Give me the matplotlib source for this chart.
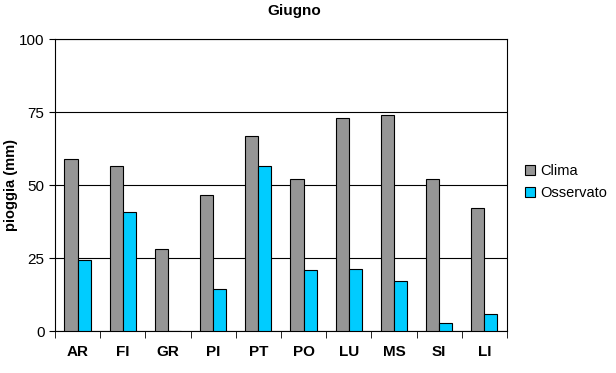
import numpy as np
import matplotlib
matplotlib.use('Agg')
import matplotlib.pyplot as plt

plt.rcParams['font.family'] = ['Liberation Sans', 'DejaVu Sans']

stazioni = ['AR', 'FI', 'GR', 'PI', 'PT', 'PO', 'LU', 'MS', 'SI', 'LI']
clima = [58.9, 56.5, 28.0, 46.5, 66.7, 52.0, 72.9, 73.9, 52.0, 42.1]
osservato = [24.2, 40.7, 0.0, 14.3, 56.5, 20.8, 21.1, 17.0, 2.6, 5.7]

fig = plt.figure(figsize=(6.16, 3.73), dpi=100)
ax = fig.add_axes([0.0893, 0.1126, 0.7337, 0.7828])

x = np.arange(len(stazioni))
w = 0.29
ax.bar(x - w / 2, clima, w, color='#969696', edgecolor='black', linewidth=0.8,
       label='Clima', zorder=3)
ax.bar(x + w / 2, osservato, w, color='#00ccff', edgecolor='black', linewidth=0.8,
       label='Osservato', zorder=3)

ax.set_xlim(-0.5, len(stazioni) - 0.5)
ax.set_ylim(0, 100)
ax.set_yticks([0, 25, 50, 75, 100])
ax.yaxis.grid(True, color='black', linewidth=0.8, zorder=0)

# etichette centrate, tacche tra le categorie
ax.set_xticks(x)
ax.set_xticklabels(stazioni, fontweight='bold', fontsize=11)
ax.tick_params(axis='x', length=0, pad=10)
ax.set_xticks(np.arange(len(stazioni) + 1) - 0.5, minor=True)
ax.tick_params(axis='x', which='minor', length=5, direction='out')
ax.tick_params(axis='y', length=4, direction='out', labelsize=11)

for s in ax.spines.values():
    s.set_linewidth(0.8)

ax.set_ylabel('pioggia (mm)', fontweight='bold', fontsize=10.5)
ax.yaxis.set_label_coords(-0.082, 0.5)
fig.text(294 / 616, 1 - 11 / 373, 'Giugno', fontweight='bold', fontsize=11,
         ha='center', va='center')

ax.legend(loc='center left', bbox_to_anchor=(1.01, 0.51), frameon=False,
          fontsize=10.5, handlelength=0.7, handleheight=0.7, handletextpad=0.4,
          labelspacing=0.6)

fig.savefig('out.png', dpi=100)
